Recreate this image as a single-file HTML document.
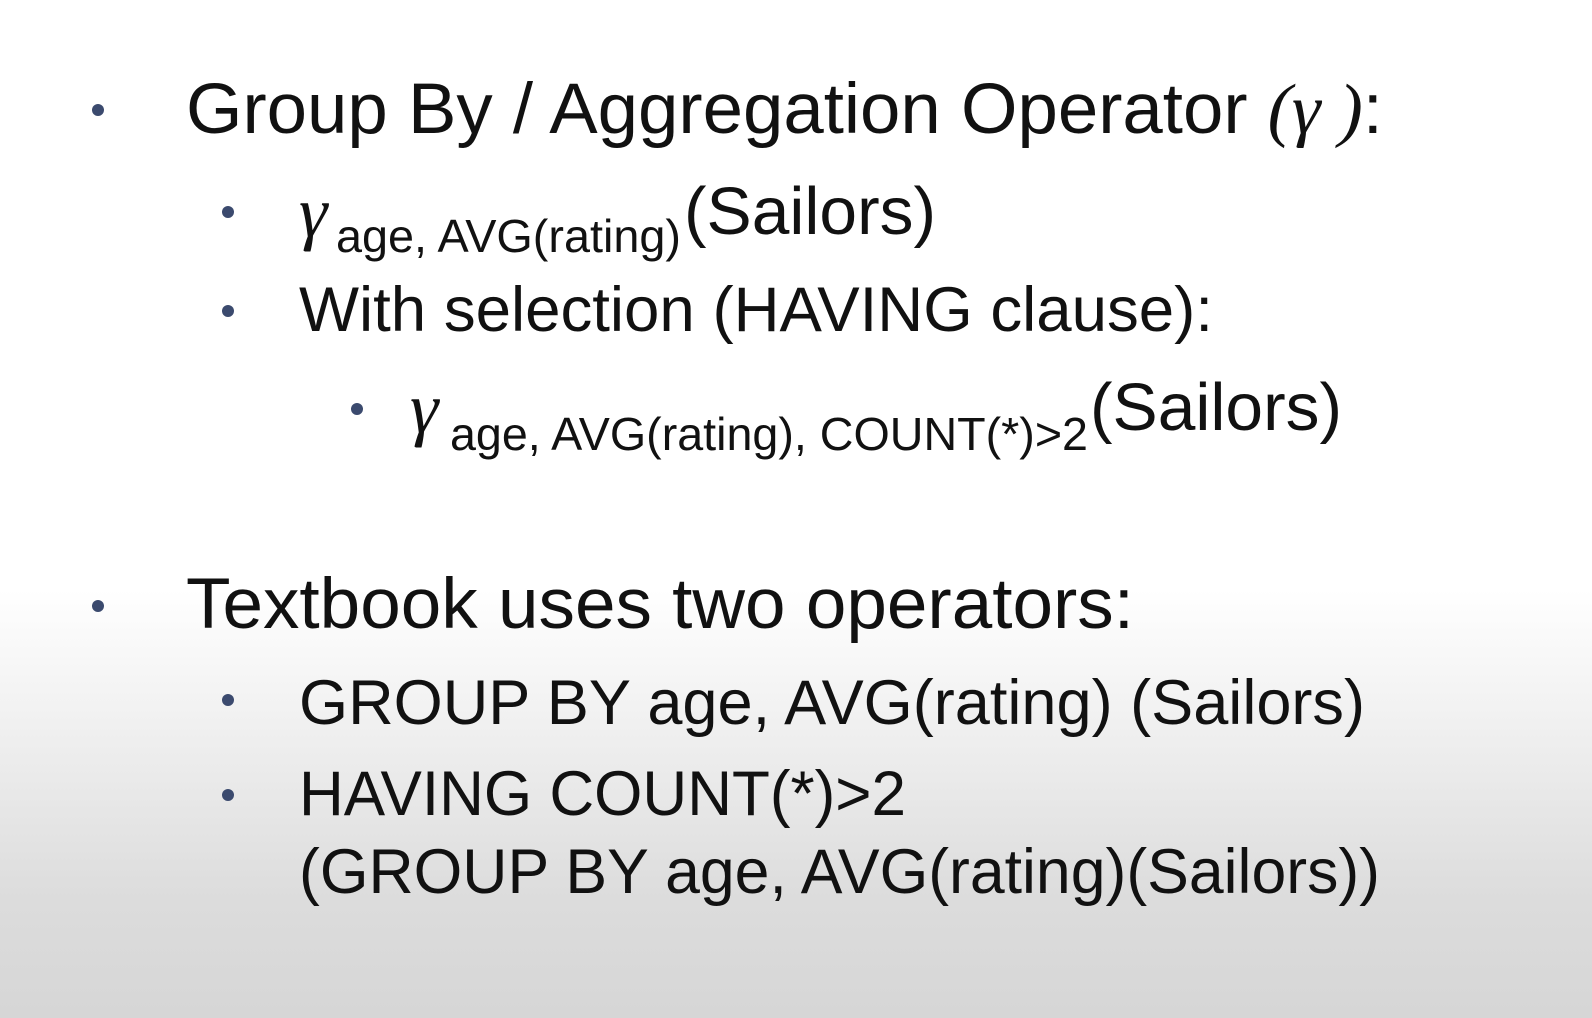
<!DOCTYPE html>
<html><head><meta charset="utf-8"><style>
html,body{margin:0;padding:0;}
body{width:1592px;height:1018px;overflow:hidden;background:linear-gradient(to bottom,#fff 0px,#fff 590px,#ececec 760px,#dcdcdc 900px,#d6d6d6 1018px);}
svg{position:absolute;left:0;top:0;}
text{font-family:"Liberation Sans",Arial,sans-serif;fill:#111;}
.g{font-family:"Liberation Serif",serif;font-style:italic;}
</style></head><body>
<svg width="1592" height="1018" viewBox="0 0 1592 1018">
<g fill="#3b4a6e">
<circle cx="98" cy="110" r="6"/>
<circle cx="228" cy="212" r="6"/>
<circle cx="228" cy="311" r="6"/>
<circle cx="357" cy="409" r="6"/>
<circle cx="98" cy="606" r="6"/>
<circle cx="228" cy="700" r="6"/>
<circle cx="228" cy="795" r="6"/>
</g>
<text x="186" y="133" font-size="71" textLength="1197" lengthAdjust="spacingAndGlyphs">Group By / Aggregation Operator <tspan class="g">(γ )</tspan>:</text>
<text x="299" y="236" font-size="72" class="g">γ</text>
<text x="336" y="252" font-size="46" textLength="345" lengthAdjust="spacingAndGlyphs">age, AVG(rating)</text>
<text x="684" y="234" font-size="67" textLength="252" lengthAdjust="spacingAndGlyphs">(Sailors)</text>
<text x="299" y="331" font-size="63" textLength="914" lengthAdjust="spacingAndGlyphs">With selection (HAVING clause):</text>
<text x="410" y="432" font-size="72" class="g">γ</text>
<text x="450" y="450" font-size="46" textLength="638" lengthAdjust="spacingAndGlyphs">age, AVG(rating), COUNT(*)&gt;2</text>
<text x="1090" y="430" font-size="67" textLength="252" lengthAdjust="spacingAndGlyphs">(Sailors)</text>
<text x="186" y="628" font-size="71" textLength="948" lengthAdjust="spacingAndGlyphs">Textbook uses two operators:</text>
<text x="299" y="724" font-size="63" textLength="1066" lengthAdjust="spacingAndGlyphs">GROUP BY age, AVG(rating) (Sailors)</text>
<text x="299" y="815" font-size="63" textLength="607" lengthAdjust="spacingAndGlyphs">HAVING COUNT(*)&gt;2</text>
<text x="299" y="893" font-size="63" textLength="1081" lengthAdjust="spacingAndGlyphs">(GROUP BY age, AVG(rating)(Sailors))</text>
</svg>
</body></html>
